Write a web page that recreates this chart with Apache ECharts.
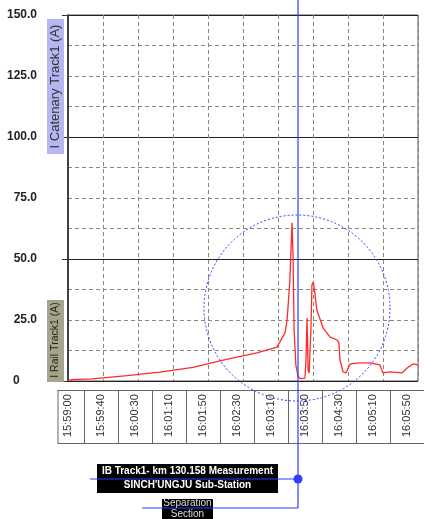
<!DOCTYPE html>
<html>
<head>
<meta charset="utf-8">
<script src="https://cdn.jsdelivr.net/npm/echarts@6/dist/echarts.min.js"></script>
<style>
html, body { margin: 0; padding: 0; background: #fff; }
#chart { width: 424px; height: 519px; }
</style>
</head>
<body>
<div id="chart"></div>
<script>
// x is measured in label columns (0 = 15:59:00 ... 10 = 16:05:50)
const timeLabels = ['15:59:00', '15:59:40', '16:00:30', '16:01:10', '16:01:50', '16:02:30',
    '16:03:10', '16:03:50', '16:04:30', '16:05:10', '16:05:50'];
const yLabelValues = [0, 25, 50, 75, 100, 125, 150];

const timeSteps = [0, 0.11, 0.69, 1.69, 2.63, 3.57, 4.43, 5.4, 5.97, 6.2, 6.26, 6.34, 6.4,
    6.43, 6.46, 6.51, 6.57, 6.63, 6.77, 6.8, 6.83, 6.86, 6.89, 6.94, 6.97, 7.01, 7.06, 7.11,
    7.29, 7.49, 7.69, 7.74, 7.77, 7.86, 7.94, 8.06, 8.34, 8.63, 8.91, 9.0, 9.2, 9.54, 9.69, 9.86, 10];
const railCurrent = [0.2, 0.6, 0.9, 2.2, 3.6, 5.6, 8.6, 11.5, 13.9, 19.7, 25, 41.4, 64.8,
    51.6, 20.9, 6.6, 2, 1, 1.2, 8.6, 25.8, 4.5, 3.3, 20.9, 39.3, 40.6, 35.2, 29.1,
    21.7, 18, 16.8, 15.6, 8.6, 3.7, 3.3, 7, 7.4, 7.4, 6.6, 3.3, 3.7, 3.3, 5.3, 7, 6.6];

// table cell borders sit half way between two labels
const cellEdges = [-0.5, 0.5, 1.5, 2.5, 3.5, 4.5, 5.5, 6.5, 7.5, 8.5, 9.5, 10.5];

const chart = echarts.init(document.getElementById('chart'), null, { renderer: 'canvas' });

const gridDash = { color: '#8a8870', width: 1, type: [4, 3] };
const blue = '#2f3cff';

const option = {
    backgroundColor: '#ffffff',
    animation: false,
    grid: [
        { left: 68, top: 15, width: 350, height: 366, show: true, borderColor: '#555', borderWidth: 1, backgroundColor: '#fff' },
        // the little table holding the time labels
        { left: 50.5, top: 390, width: 385, height: 53, show: false }
    ],
    xAxis: [
        {
            gridIndex: 0,
            type: 'value',
            min: 0,
            max: 10,
            interval: 1,
            axisLine: { show: false },
            axisTick: { show: false },
            axisLabel: { show: false },
            splitLine: { show: true, lineStyle: gridDash }
        },
        {
            gridIndex: 1,
            type: 'category',
            data: timeLabels,
            boundaryGap: true,
            axisLine: { show: true, lineStyle: { color: '#666' } },
            axisTick: { show: false },
            splitLine: { show: true, lineStyle: { color: '#666', width: 1 } },
            axisLabel: {
                inside: true,
                interval: 0,
                rotate: 90,
                margin: 6,
                fontFamily: 'Liberation Sans',
                fontSize: 11,
                color: '#333'
            }
        },
        {
            // top edge of the table
            gridIndex: 1,
            type: 'category',
            data: timeLabels,
            position: 'top',
            axisLine: { show: true, lineStyle: { color: '#666' } },
            axisTick: { show: false },
            axisLabel: { show: false }
        }
    ],
    yAxis: [
        {
            gridIndex: 0,
            type: 'value',
            position: 'left',
            min: 0,
            max: 150,
            interval: 12.5,
            axisLine: { show: true, lineStyle: { color: '#222', width: 1.5 } },
            axisTick: { show: false },
            splitLine: { show: true, lineStyle: gridDash },
            axisLabel: {
                margin: 31,
                fontFamily: 'Liberation Sans',
                fontWeight: 'bold',
                fontSize: 12,
                color: '#222',
                formatter: (v) => {
                    if (!yLabelValues.includes(v)) return '';
                    return v === 0 ? '{z|0}' : v.toFixed(1);
                },
                rich: {
                    z: { width: 24, align: 'left', fontFamily: 'Liberation Sans', fontWeight: 'bold', fontSize: 12, color: '#222' }
                }
            }
        },
        {
            // solid lines every 50 A
            gridIndex: 0,
            type: 'value',
            position: 'left',
            min: 0,
            max: 150,
            interval: 50,
            axisLine: { show: false },
            axisTick: { show: true, length: 6, lineStyle: { color: '#333' } },
            axisLabel: { show: false },
            splitLine: { show: true, lineStyle: { color: '#222', width: 1 } }
        },
        {
            gridIndex: 1,
            type: 'value',
            min: 0,
            max: 1,
            show: false
        }
    ],
    series: [
        {
            type: 'line',
            xAxisIndex: 0,
            yAxisIndex: 0,
            data: timeSteps.map((t, i) => [t, railCurrent[i]]),
            showSymbol: false,
            smooth: false,
            lineStyle: { color: '#ff2a2a', width: 1.3 },
            z: 5
        }
    ],
    graphic: [
        // hide the part of the table left of its first border, as in the original
        { type: 'rect', shape: { x: 49, y: 388, width: 8.5, height: 57 }, style: { fill: '#fff' }, z: 9 },
        { type: 'line', shape: { x1: 58, y1: 390, x2: 58, y2: 443 }, style: { stroke: '#666', lineWidth: 1 }, z: 9 },
        { type: 'rect', shape: { x: 47, y: 19, width: 17, height: 135 }, style: { fill: '#b6b6f0' }, z: 10 },
        {
            type: 'text', x: 55.5, y: 86.5, rotation: Math.PI / 2, z: 11,
            style: { text: 'I Catenary Track1 (A)', fill: '#333', font: '13px "Liberation Sans"', align: 'center', verticalAlign: 'middle', textAlign: 'center', textVerticalAlign: 'middle' }
        },
        { type: 'rect', shape: { x: 47, y: 300, width: 17, height: 82 }, style: { fill: '#a6a48c' }, z: 10 },
        {
            type: 'text', x: 55.5, y: 340, rotation: Math.PI / 2, z: 11,
            style: { text: 'I Rail Track1 (A)', fill: '#222', font: '10.5px "Liberation Sans"', align: 'center', verticalAlign: 'middle', textAlign: 'center', textVerticalAlign: 'middle' }
        },
        // marked zone
        { type: 'circle', shape: { cx: 297, cy: 308, r: 93 }, style: { fill: 'none', stroke: blue, lineWidth: 1, lineDash: [2, 2] }, z: 20 },
        // measurement marker
        { type: 'rect', shape: { x: 97, y: 464, width: 181, height: 29 }, style: { fill: '#000' }, z: 20 },
        { type: 'rect', shape: { x: 162, y: 499, width: 51, height: 22 }, style: { fill: '#000' }, z: 20 },
        { type: 'line', shape: { x1: 298, y1: 0, x2: 298, y2: 508 }, style: { stroke: blue, lineWidth: 1.2 }, z: 21 },
        { type: 'line', shape: { x1: 90, y1: 479, x2: 298, y2: 479 }, style: { stroke: blue, lineWidth: 1.2 }, z: 21 },
        { type: 'line', shape: { x1: 142, y1: 508, x2: 298, y2: 508 }, style: { stroke: blue, lineWidth: 1.2 }, z: 21 },
        { type: 'circle', shape: { cx: 298, cy: 479, r: 4.5 }, style: { fill: blue }, z: 22 },
        {
            type: 'text', x: 187.5, y: 471.5, z: 23,
            style: { text: 'IB Track1- km 130.158 Measurement', fill: '#fff', font: 'bold 10px "Liberation Sans"', align: 'center', verticalAlign: 'middle', textAlign: 'center', textVerticalAlign: 'middle' }
        },
        {
            type: 'text', x: 187.5, y: 485.5, z: 23,
            style: { text: "SINCH'UNGJU Sub-Station", fill: '#fff', font: 'bold 10px "Liberation Sans"', align: 'center', verticalAlign: 'middle', textAlign: 'center', textVerticalAlign: 'middle' }
        },
        {
            type: 'text', x: 187.5, y: 503, z: 23,
            style: { text: 'Separation', fill: '#ddd', font: '10px "Liberation Sans"', align: 'center', verticalAlign: 'middle', textAlign: 'center', textVerticalAlign: 'middle' }
        },
        {
            type: 'text', x: 187.5, y: 514, z: 23,
            style: { text: 'Section', fill: '#ddd', font: '10px "Liberation Sans"', align: 'center', verticalAlign: 'middle', textAlign: 'center', textVerticalAlign: 'middle' }
        }
    ]
};

chart.setOption(option);
window.addEventListener('resize', () => chart.resize());
</script>
</body>
</html>
